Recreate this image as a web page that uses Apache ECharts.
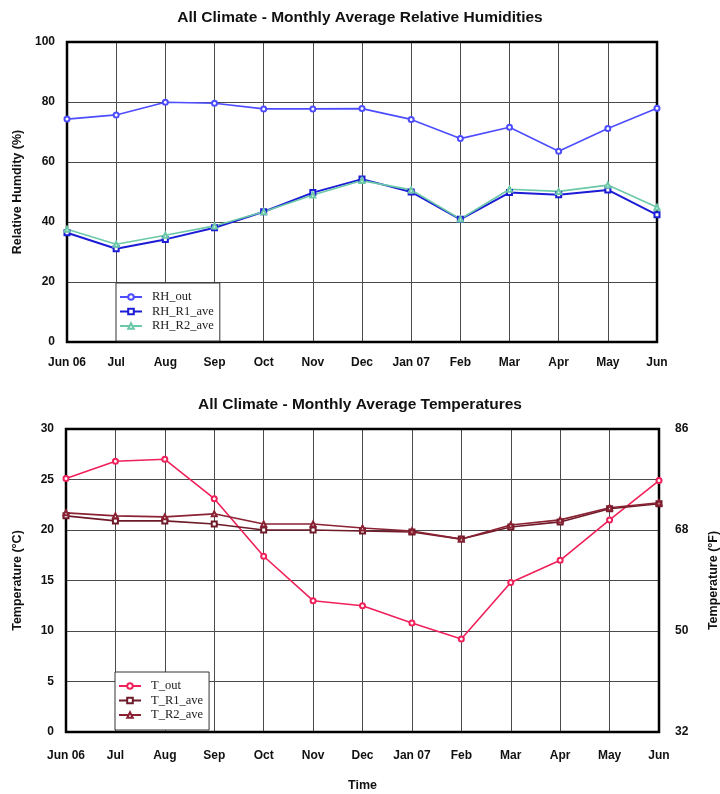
<!DOCTYPE html>
<html><head><meta charset="utf-8">
<script src="https://cdn.jsdelivr.net/npm/echarts@6/dist/echarts.min.js"></script>
<style>html,body{margin:0;padding:0;background:#fff}#c{width:720px;height:794px}</style>
</head><body><div id="c"></div>
<script>
const months = ['Jun 06','Jul','Aug','Sep','Oct','Nov','Dec','Jan 07','Feb','Mar','Apr','May','Jun'];
const RH_out = [74.3,75.7,79.9,79.6,77.7,77.7,77.8,74.2,67.8,71.6,63.6,71.2,77.9];
const RH_R1_ave = [36.4,31.1,34.2,38.1,43.4,49.8,54.3,50.0,40.9,49.8,49.1,50.7,42.4];
const RH_R2_ave = [37.6,32.6,35.6,38.7,43.4,49.0,53.8,50.7,41.0,50.9,50.2,52.3,44.9];
const T_out = [25.1,26.8,27.0,23.1,17.4,13.0,12.5,10.8,9.2,14.8,17.0,21.0,24.9];
const T_R1_ave = [21.4,20.9,20.9,20.6,20.0,20.0,19.9,19.8,19.1,20.3,20.8,22.1,22.6];
const T_R2_ave = [21.7,21.4,21.3,21.6,20.6,20.6,20.2,19.9,19.1,20.5,21.0,22.2,22.7];

const F = '"Liberation Sans", Arial, sans-serif';
const SERIF = '"Liberation Serif", "Times New Roman", serif';
const lab = {fontFamily:F,fontWeight:'bold',fontSize:12,color:'#111'};
const nameStyle = {fontFamily:F,fontWeight:'bold',fontSize:12.5,color:'#111'};
function xAx(gi,m){return {type:'category',gridIndex:gi,data:months,boundaryGap:false,
  axisLine:{show:false},axisTick:{show:false},
  axisLabel:Object.assign({margin:m,interval:0},lab),
  splitLine:{show:true,lineStyle:{color:'#4a4a4a',width:1}}};}
function ser(name,data,gi,yi,color,sym,w){return {name,type:'line',xAxisIndex:gi,yAxisIndex:yi,data,
  symbol:sym,symbolSize:5,showSymbol:true,lineStyle:{color,width:w||1.6},itemStyle:{color,borderColor:color,borderWidth:1.5},z:5};}
function leg(names,top){return {data:names,orient:'vertical',left:top<400?116:115,top:top,itemGap:0.5,itemWidth:22,itemHeight:7,
  backgroundColor:'#fff',borderColor:'#333',borderWidth:1,padding:[7,6,8,3],z:10,
  textStyle:{fontFamily:SERIF,fontSize:12.5,color:'#222',padding:[0,0,0,5],lineHeight:14}};}

const chart = echarts.init(document.getElementById('c'),null,{renderer:'canvas'});
chart.setOption({
  animation:false,
  backgroundColor:'#fff',
  title:[
    {text:'All Climate - Monthly Average Relative Humidities',left:'center',top:5,textStyle:{fontFamily:F,fontWeight:'bold',fontSize:15.5,color:'#111'}},
    {text:'All Climate - Monthly Average Temperatures',left:'center',top:392,textStyle:{fontFamily:F,fontWeight:'bold',fontSize:15.5,color:'#111'}}
  ],
  grid:[
    {left:67,right:63,top:42,height:300,show:true,borderColor:'#000',borderWidth:2.5,backgroundColor:'transparent',z:3,containLabel:false,outerBoundsMode:'none'},
    {left:66,right:61,top:429,height:303,show:true,borderColor:'#000',borderWidth:2.5,backgroundColor:'transparent',z:3,containLabel:false,outerBoundsMode:'none'}
  ],
  xAxis:[xAx(0,15),Object.assign(xAx(1,18),{name:'Time',nameLocation:'middle',nameGap:47,nameTextStyle:nameStyle})],
  yAxis:[
    {type:'value',gridIndex:0,min:0,max:100,interval:20,axisLine:{show:false},axisTick:{show:false},
     axisLabel:Object.assign({margin:12},lab),splitLine:{show:true,lineStyle:{color:'#4a4a4a',width:1}},
     name:'Relative Humdity (%)',nameLocation:'middle',nameGap:42,nameTextStyle:nameStyle},
    {type:'value',gridIndex:1,min:0,max:30,interval:5,axisLine:{show:false},axisTick:{show:false},
     axisLabel:Object.assign({margin:12},lab),splitLine:{show:true,lineStyle:{color:'#4a4a4a',width:1}},
     name:'Temperature (°C)',nameLocation:'middle',nameGap:42,nameTextStyle:nameStyle},
    {type:'value',gridIndex:1,position:'right',min:0,max:30,interval:10,axisLine:{show:false},axisTick:{show:false},
     axisLabel:Object.assign({margin:16,formatter:v=>String(Math.round(v*9/5+32))},lab),splitLine:{show:false},
     name:'Temperature (°F)',nameLocation:'middle',nameGap:48,nameRotate:90,nameTextStyle:nameStyle}
  ],
  legend:[leg(['RH_out','RH_R1_ave','RH_R2_ave'],283),leg(['T_out','T_R1_ave','T_R2_ave'],672)],
  series:[
    ser('RH_out',RH_out,0,0,'#4d4dff','emptyCircle'),
    ser('RH_R1_ave',RH_R1_ave,0,0,'#1c1cd6','emptyRect',2),
    ser('RH_R2_ave',RH_R2_ave,0,0,'#6cc9a8','emptyTriangle'),
    ser('T_out',T_out,1,1,'#f0205a','emptyCircle'),
    ser('T_R1_ave',T_R1_ave,1,1,'#6e1a28','emptyRect'),
    ser('T_R2_ave',T_R2_ave,1,1,'#8a2234','emptyTriangle')
  ]
});
</script></body></html>
